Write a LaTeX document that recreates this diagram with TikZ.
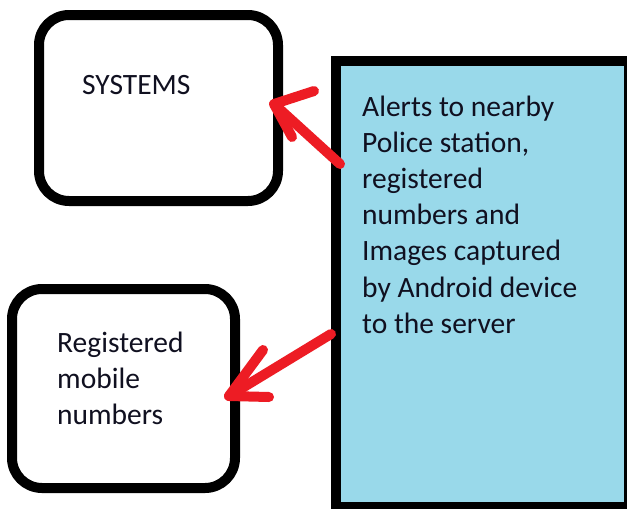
\documentclass[tikz,border=0pt]{standalone}
\usepackage{fontspec}
\setmainfont{Carlito}
\definecolor{paintred}{HTML}{ED1C24}
\definecolor{paintblue}{HTML}{99D9EA}
\definecolor{txt}{HTML}{101020}
\begin{document}
\begin{tikzpicture}[x=1pt,y=-1pt,
  box/.style={draw=black,line width=10pt,rounded corners=30pt},
  server/.style={draw=black,fill=paintblue,line width=10pt},
  lbl/.style={inner sep=0pt,anchor=base west,align=left,text=txt,
    font=\fontsize{29.5}{36.2}\selectfont},
  redline/.style={draw=paintred,line width=10pt,line cap=round,line join=round}]
\useasboundingbox (0,0) rectangle (627,509);
\fill[white] (0,0) rectangle (627,509);
% boxes
\draw[box] (39,15) rectangle (278,201);
\draw[box] (12,289) rectangle (235,488);
\draw[server] (336,61) rectangle (629,507);
% labels (anchor = baseline of last line)
\node[lbl] (sys) at (82,94) {SYSTEMS};
\node[lbl] (reg) at (57,424.4) {Registered\\mobile\\numbers};
\node[lbl] (alert) at (362,333.2) {Alerts to nearby\\Police station,\\registered\\numbers and\\Images captured\\by Android device\\to the server};
% arrow coordinates
\coordinate (a1s) at (340,164);
\coordinate (a1t) at (274,104);
\coordinate (a1u) at (314,91);
\coordinate (a1l) at (292,137);
\coordinate (a2s) at (331,334);
\coordinate (a2t) at (229,396);
\coordinate (a2u) at (263,350);
\coordinate (a2l) at (269,397);
% arrows
\draw[redline] (a1s) -- (a1t);
\draw[redline] (a1u) -- (a1t) -- (a1l);
\draw[redline] (a2s) -- (a2t);
\draw[redline] (a2u) -- (a2t) -- (a2l);
\end{tikzpicture}
\end{document}
